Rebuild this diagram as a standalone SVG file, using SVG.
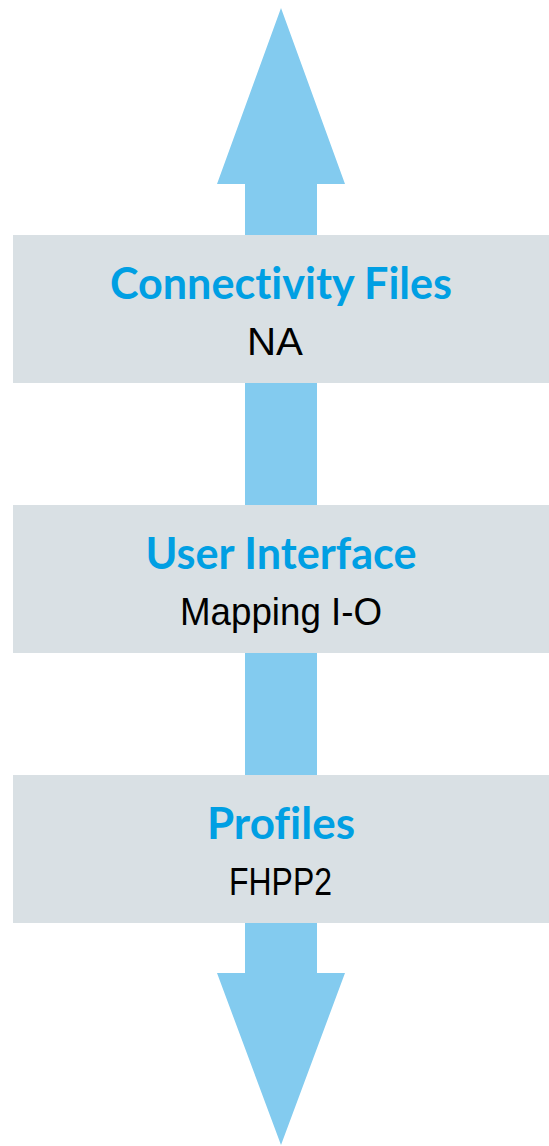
<svg xmlns="http://www.w3.org/2000/svg" width="549" height="1146" viewBox="0 0 549 1146">
<style>
.box{fill:#D9E0E4}
.arrow{fill:#83CBEF}
.title{font-family:"Lato","Liberation Sans",sans-serif;font-weight:bold;font-size:44px;fill:#009FE3;text-anchor:middle;font-variant-ligatures:none}
.sub{font-family:"Liberation Sans",sans-serif;font-size:39px;fill:#000;text-anchor:middle}
</style>
<rect width="549" height="1146" fill="#FFFFFF"/>
<g id="connectors">
<polygon class="arrow" points="281,8 345,184 317,184 317,973 345,973 281,1145 217,973 245,973 245,184 217,184"/>
</g>
<g id="node-connectivity">
<rect class="box" x="13" y="235" width="536" height="148"/>
<text class="title" x="281" y="299" textLength="342" lengthAdjust="spacingAndGlyphs">Connectivity Files</text>
<text class="sub" x="275" y="355" textLength="56" lengthAdjust="spacingAndGlyphs">NA</text>
</g>
<g id="node-ui">
<rect class="box" x="13" y="505" width="536" height="148"/>
<text class="title" x="281" y="569" textLength="271" lengthAdjust="spacingAndGlyphs">User Interface</text>
<text class="sub" x="281" y="625" textLength="202" lengthAdjust="spacingAndGlyphs">Mapping I-O</text>
</g>
<g id="node-profiles">
<rect class="box" x="13" y="775" width="536" height="148"/>
<text class="title" x="281" y="839" textLength="148" lengthAdjust="spacingAndGlyphs">Profiles</text>
<text class="sub" x="280.5" y="895" textLength="103" lengthAdjust="spacingAndGlyphs">FHPP2</text>
</g>
</svg>
